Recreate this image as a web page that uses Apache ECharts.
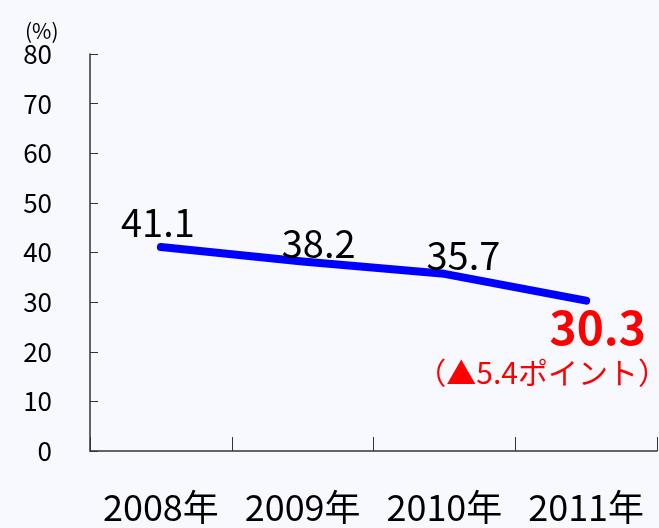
<!DOCTYPE html>
<html lang="ja">
<head>
<meta charset="utf-8">
<title>chart</title>
<script src="https://cdn.jsdelivr.net/npm/echarts@6/dist/echarts.min.js"></script>
<style>
  html, body { margin: 0; padding: 0; background: #f8f8ff; }
  #container { width: 659px; height: 528px; }
</style>
</head>
<body>
<div id="container"></div>
<script>
    // データ
    var years = ['2008年', '2009年', '2010年', '2011年'];
    var rates = [41.1, 38.2, 35.7, 30.3];
    var yTicks = [0, 10, 20, 30, 40, 50, 60, 70, 80];
    var note = '（▲5.4ポイント）';

    var font = '"Noto Sans CJK JP", "Noto Sans", sans-serif';
    // ラベルのずらし量
    var labelOffsets = [[-3, 3], [16, 9], [19, 9]];

    var seriesData = rates.map(function (v, i) {
        if (i === rates.length - 1) {
            return {
                value: v,
                label: {
                    position: 'bottom',
                    offset: [-44, -5],
                    formatter: '{a|' + v.toFixed(1) + '}\n{b|' + note + '}',
                    rich: {
                        a: { fontSize: 46, fontWeight: 'bold', color: '#ff0000', fontFamily: font,
                             align: 'right', padding: [0, 22, 0, 0], lineHeight: 48 },
                        b: { fontSize: 30, color: '#ff0000', fontFamily: font, lineHeight: 42 }
                    }
                }
            };
        }
        return {
            value: v,
            label: { position: 'top', offset: labelOffsets[i] }
        };
    });

    var myChart = echarts.init(document.getElementById('container'));
    var option = {
        backgroundColor: '#f8f8ff',
        animation: false,
        title: {
            text: '(%)',
            left: 20,
            top: 16,
            textStyle: { fontSize: 21, fontWeight: 'normal', color: '#000', fontFamily: font }
        },
        grid: { left: 90, right: 2, top: 54, bottom: 77, containLabel: false },
        xAxis: {
            type: 'category',
            data: years,
            boundaryGap: true,
            axisLine: { lineStyle: { color: '#333', width: 1.5 } },
            axisTick: { show: true, interval: 0, inside: true, length: 14, lineStyle: { color: '#333', width: 1 } },
            axisLabel: { interval: 0, margin: 38, fontSize: 36, color: '#000', fontFamily: font }
        },
        yAxis: {
            type: 'value',
            min: yTicks[0],
            max: yTicks[yTicks.length - 1],
            interval: 10,
            splitLine: { show: false },
            axisLine: { show: true, lineStyle: { color: '#333', width: 1.5 } },
            axisTick: { show: true, inside: true, length: 8, lineStyle: { color: '#333' } },
            axisLabel: { margin: 38, fontSize: 26, color: '#000', fontFamily: font }
        },
        series: [{
            type: 'line',
            data: seriesData,
            symbol: 'circle',
            symbolSize: 6,
            showAllSymbol: true,
            itemStyle: { color: '#0000ff' },
            lineStyle: { color: '#0000ff', width: 8, cap: 'round', join: 'round' },
            label: {
                show: true,
                distance: 5,
                fontSize: 38,
                color: '#000',
                fontFamily: font
            }
        }]
    };
    myChart.setOption(option, true);
</script>
</body>
</html>
